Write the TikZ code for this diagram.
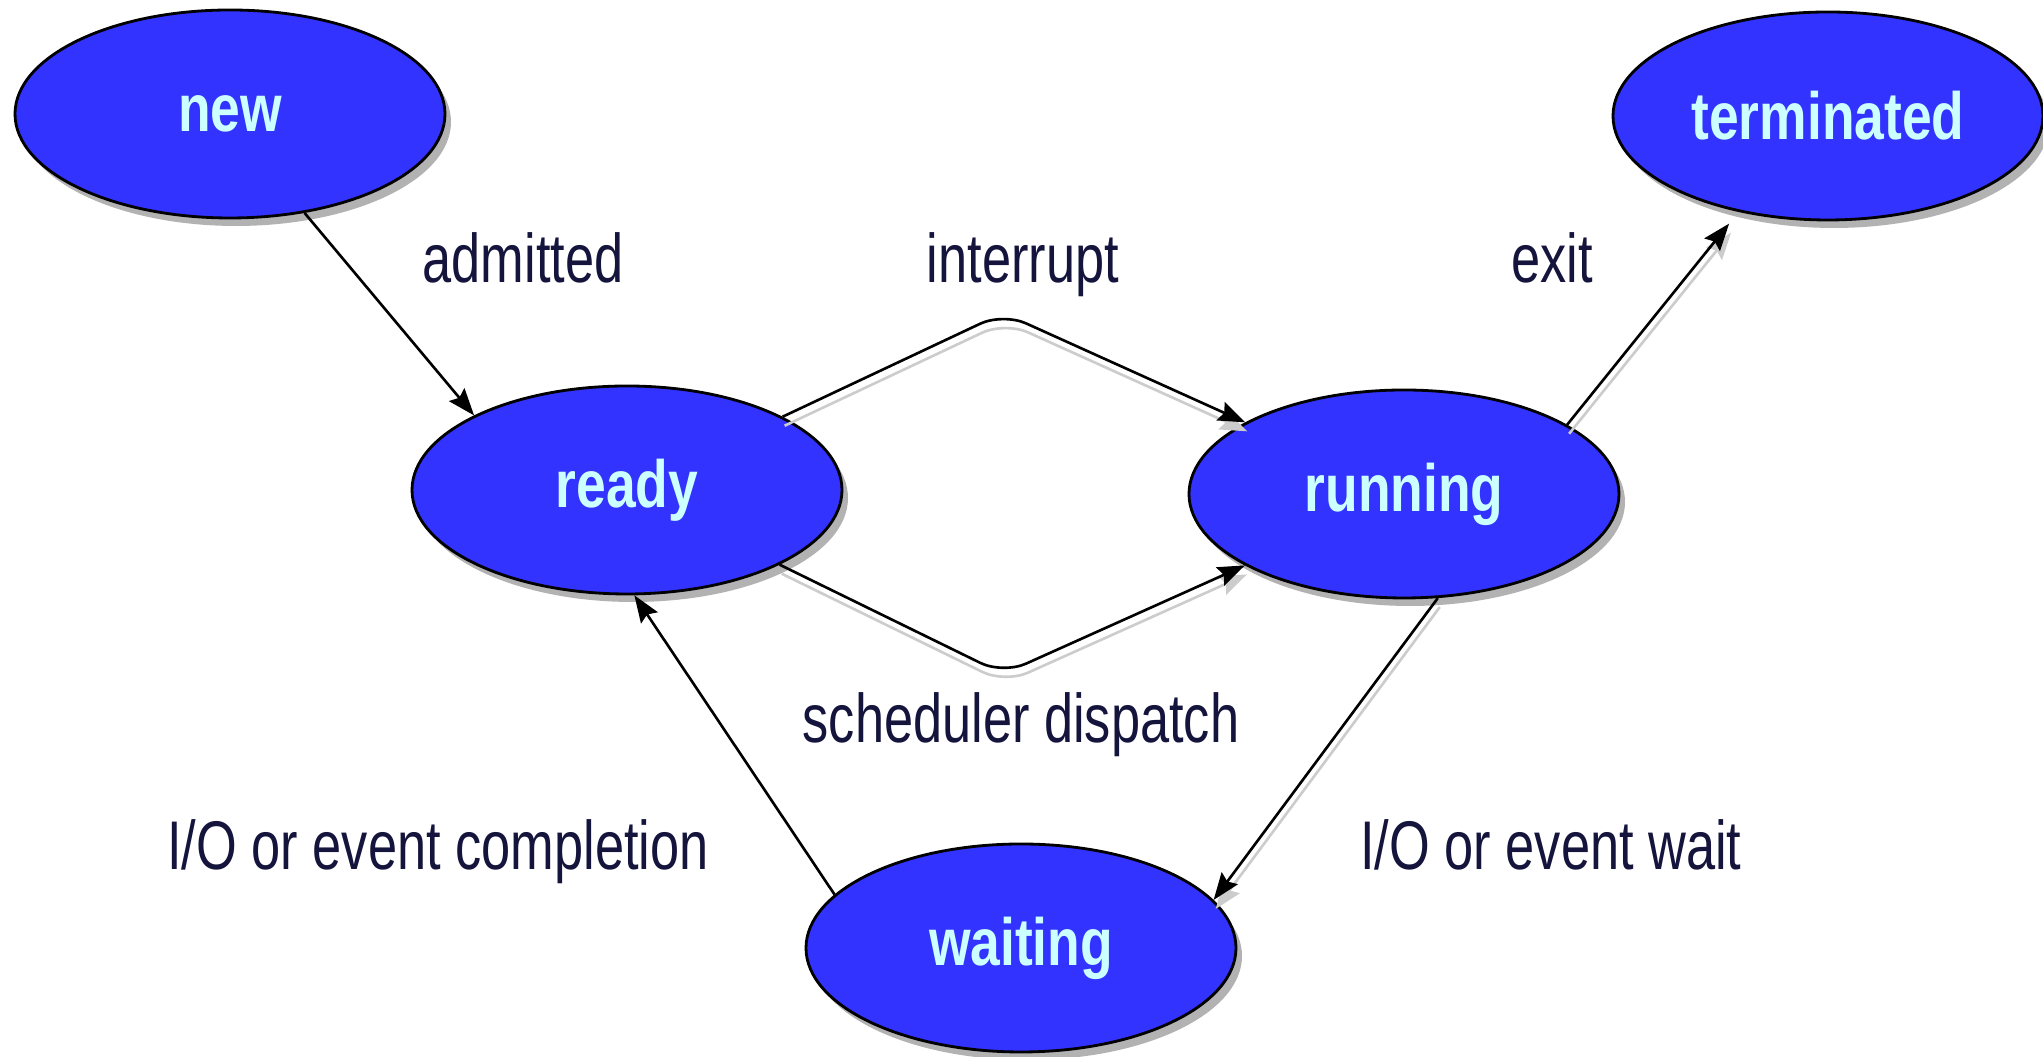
\documentclass[tikz,border=0pt]{standalone}
\usepackage{fontspec}
\setmainfont{Liberation Sans}[FakeStretch=0.76]
\newfontfamily\statefont{Liberation Sans}[FakeStretch=0.8]
\usetikzlibrary{arrows.meta,shapes.geometric,shadows}

\definecolor{statefill}{RGB}{51,51,255}
\definecolor{statetext}{RGB}{204,255,255}
\definecolor{labeltext}{RGB}{20,20,60}

\tikzset{
	state/.style={draw=black, line width=0.8pt, ellipse, fill=statefill, inner sep=0pt,
		minimum width=4.3cm, minimum height=2.08cm, text=statetext,
		font=\statefont\bfseries\fontsize{19}{22}\selectfont,
		drop shadow={shadow xshift=0.06cm, shadow yshift=-0.08cm, fill=black!30, opacity=1}},
	lbl/.style={anchor=base, text=labeltext, font=\fontsize{19.6}{22}\selectfont},
	trans/.style={draw=black, line width=0.75pt, -{Stealth[length=0.27cm,width=0.2cm,inset=0.04cm]}},
	shadowed/.style={preaction={draw=black!20, line width=0.75pt, transform canvas={xshift=0.02cm,yshift=-0.09cm}}}
}

\begin{document}
\begin{tikzpicture}
			\useasboundingbox (0,0) rectangle (20.43,10.57);

			% States
			\node[state] (new) at (2.30, 9.43) {new};
			\node[state] (ready) at (6.27, 5.67) {ready};
			\node[state] (running) at (14.04, 5.63) {running};
			\node[state] (terminated) at (18.28, 9.41) {terminated};
			\node[state] (waiting) at (10.21, 1.09) {waiting};

			% Bends of the two middle transitions
			\coordinate (topbend) at (10.03, 7.44);
			\coordinate (botbend) at (10.03, 3.83);

			% Transitions
			\draw[trans] (new.-53) -- (ready.154);
			\draw[trans, shadowed, rounded corners=0.25cm] (ready) -- (topbend) -- (running);
			\draw[trans, shadowed, rounded corners=0.25cm] (ready) -- (botbend) -- (running);
			\draw[trans, shadowed, shorten >=0.15cm] (running.23) -- (terminated.227);
			\draw[trans, shadowed] (running.-72) -- (waiting.14);
			\draw[trans] (waiting.164) -- (ready.-86);

			% Labels of the transitions
			\node[lbl] (admittedlbl) at (5.23, 7.74) {admitted};
			\node[lbl] (interruptlbl) at (10.23, 7.74) {interrupt};
			\node[lbl] (exitlbl) at (15.52, 7.74) {exit};
			\node[lbl] (dispatchlbl) at (10.21, 3.14) {scheduler dispatch};
			\node[lbl] (completionlbl) at (4.38, 1.87) {I/O or event completion};
			\node[lbl] (waitlbl) at (15.51, 1.87) {I/O or event wait};
		\end{tikzpicture}
\end{document}
